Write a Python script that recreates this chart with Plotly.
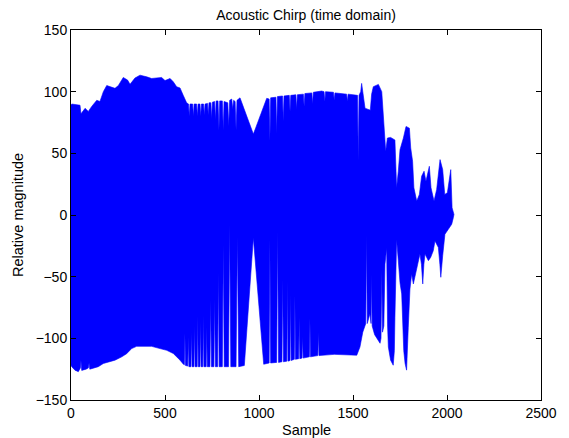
import plotly.graph_objects as go

# Upper edge of the signal trace (sample, relative magnitude)
upper_x = [0, 4, 48, 53, 75, 92, 110, 137, 154, 172, 190, 207, 234, 252, 278, 301, 314, 340, 367, 403,
           429, 482, 500, 527, 544, 562, 580, 597, 615,
           625, 629, 633, 647, 651, 655, 668, 672, 676, 686, 690, 694, 705, 709, 713, 726, 730, 734,
           744, 748, 752, 764, 768, 772, 782, 787, 791, 805, 810, 814, 834, 839, 844, 855, 860, 865,
           873, 878, 883, 899, 970, 1005, 1041,
           1054, 1058, 1062, 1090, 1094, 1098, 1125, 1129, 1133, 1161, 1165, 1169, 1196, 1200, 1204,
           1236, 1240, 1244, 1281, 1285, 1289, 1333, 1346, 1350, 1354, 1396, 1400, 1404, 1422, 1466,
           1470, 1474, 1511, 1524, 1528, 1532, 1541, 1546, 1552, 1560, 1564, 1592, 1599, 1608, 1635,
           1653, 1665, 1674, 1683, 1700, 1723, 1732, 1741, 1750, 1768, 1782, 1800, 1807, 1817, 1824,
           1839, 1853, 1865, 1878, 1888, 1906, 1915, 1931, 1945, 1963, 1977, 1988, 2002, 2012, 2020,
           2027, 2037]
upper_y = [89, 90, 89, 82, 86.5, 84, 88, 93, 92, 100, 105, 104, 102.7, 105, 111.5, 109.4, 106, 111, 113.4, 112,
           110.7, 111.5, 109, 110.7, 108, 104, 103, 97, 91,
           90, 80, 90, 90, 80, 90, 90, 80, 90, 90, 80, 90, 90, 81, 90, 90.5, 81, 91,
           91, 78, 91.5, 92, 77, 92.5, 92.5, 69, 92.5, 92.5, 69, 92, 91, 72, 93, 94, 86, 93,
           92, 69, 93, 95, 65.6, 80, 94.6,
           94, 60, 95, 95.5, 66, 96, 96.5, 76, 96.5, 97, 84, 97, 97.5, 86, 97.5,
           98, 88, 98.5, 99, 90, 99.5, 100.5, 100, 92, 100, 99.5, 93, 99, 98.7, 98,
           92, 98, 97.3, 97, 43.5, 97, 100, 106.7, 100, 88, 86.6, 85, 98, 104, 105.9,
           100, 76, 51.6, 62.4, 62.9, 60.8, 22, 35.5, 53, 62.4, 71.8, 70.4, 54.3, 43.5, 22,
           11.3, 16.7, 31.5, 35.5, 27.4, 39.5, 22, 11.3, 20.7, 44.9, 36.8, 16.7, 18, 28.8, 36.8,
           5.9, 0.5]

# Lower edge of the signal trace
lower_x = [0, 4, 21, 39, 50, 53, 57, 80, 92, 96, 100, 110, 145, 172, 198, 234, 270, 296, 323, 349,
           429, 473, 509, 544, 580, 598,
           603, 606, 609, 621, 624, 627, 638, 641, 644, 654, 657, 660, 671, 674, 677, 686, 689, 692,
           701, 704, 707, 719, 722, 725, 739, 743, 747, 760, 764, 768, 780, 784, 788, 805, 810, 815,
           838, 844, 850, 878, 885, 892, 922, 970, 1025, 1032,
           1054, 1058, 1062, 1094, 1099, 1104, 1122, 1126, 1130, 1148, 1151, 1154, 1165, 1168, 1171,
           1188, 1191, 1194, 1211, 1214, 1217, 1229, 1232, 1235, 1268, 1271, 1274, 1313, 1316, 1319,
           1400, 1520, 1537, 1552, 1568, 1572, 1576, 1590, 1596, 1599, 1602, 1615, 1626, 1644, 1649,
           1653, 1657, 1664, 1670, 1679, 1684, 1688, 1700, 1714, 1720, 1723, 1732, 1741, 1750, 1759,
           1770, 1777, 1785, 1790, 1794, 1803, 1812, 1821, 1830, 1839, 1856, 1864, 1871, 1877, 1883,
           1901, 1913, 1927, 1936, 1954, 1962, 1967, 1972, 1977, 1989, 2007, 2025, 2034, 2037]
lower_y = [-122, -123, -125.8, -127, -124, -117.7, -126, -125, -124, -120, -125, -125, -123, -120.4, -119,
           -117.7, -115, -112.4, -108.3, -106.5,
           -106.5, -108.3, -109.7, -112.3, -117.7, -121,
           -121.5, -96, -122, -122.5, -99, -123, -123, -95, -123, -123, -90, -123, -123, -82, -123,
           -123, -86, -123, -123, -81.5, -123, -123, -91, -123, -123, -69, -123, -123, -68, -123,
           -123, -46.5, -123, -123, -24, -123, -123, -7.5, -123, -123, -17.7, -123, -122, -18.5, -121,
           -120.4,
           -120, -20, -120, -119.5, -13, -119.5, -119, -52, -119, -118.5, -53, -118.5, -118, -64, -118,
           -117, -65, -117, -116.5, -83, -116.5, -116, -99, -116, -115, -84, -115, -114, -95, -114,
           -113, -113.7, -107, -95, -88, -16, -88, -80, -88, -48, -90, -97, -100, -104, -100,
           -45, -95, -90, -40, -27, -90, -107, -117.7, -121.8, -110, -83, -20, -37, -55, -64,
           -110, -120.4, -125.8, -115, -91, -60, -47.8, -55.9, -48, -42.5, -31.7, -40, -55.9, -40, -31.7,
           -37, -34.4, -29, -21, -26.3, -40, -50.5, -40, -33, -15.6, -11.6, -7.5, -2, 0.5]

x_ticks = [0, 500, 1000, 1500, 2000, 2500]
y_ticks = [-150, -100, -50, 0, 50, 100, 150]

poly_x = upper_x + lower_x[::-1]
poly_y = upper_y + lower_y[::-1]

fig = go.Figure()
fig.add_trace(go.Scatter(
    x=poly_x, y=poly_y, mode="lines", fill="toself",
    fillcolor="#0000ff", line=dict(color="#0000ff", width=0.6),
    hoverinfo="skip", showlegend=False,
))

W, H = 561, 430  # page body has an 8px margin
L, R, T, B = 63, 28, 22, 38
PW, PH = W - L - R, H - T - B
FAM = "Liberation Sans, Arial, Helvetica, sans-serif"
tick_font = dict(family=FAM, size=14, color="black")
label_font = dict(family=FAM, size=14.5, color="black")
title_font = dict(family=FAM, size=14, color="black")
axis_common = dict(
    showgrid=False, zeroline=False, showline=True, linecolor="black", linewidth=1,
    mirror="ticks", ticks="inside", ticklen=5, tickcolor="black", tickwidth=1,
    tickfont=tick_font, automargin=False,
)
fig.update_layout(
    width=W, height=H,
    margin=dict(l=L, r=R, t=T, b=B),
    paper_bgcolor="white", plot_bgcolor="white",
    font=tick_font,
    title=dict(text="Acoustic Chirp (time domain)", x=0.5, xanchor="center", xref="paper",
               y=1 - 7.5 / H, yref="container", yanchor="middle", font=title_font),
    xaxis=dict(range=[0, 2500], tickvals=x_ticks, **axis_common),
    yaxis=dict(range=[-150, 150], tickvals=y_ticks, **axis_common),
    annotations=[
        dict(text="Sample", xref="paper", yref="paper", x=0.5, y=-30 / PH,
             xanchor="center", yanchor="middle", showarrow=False, font=label_font),
        dict(text="Relative magnitude", xref="paper", yref="paper", x=-53 / PW, y=0.5,
             xanchor="center", yanchor="middle", textangle=-90, showarrow=False, font=label_font),
    ],
)
fig.write_html("out.html")
